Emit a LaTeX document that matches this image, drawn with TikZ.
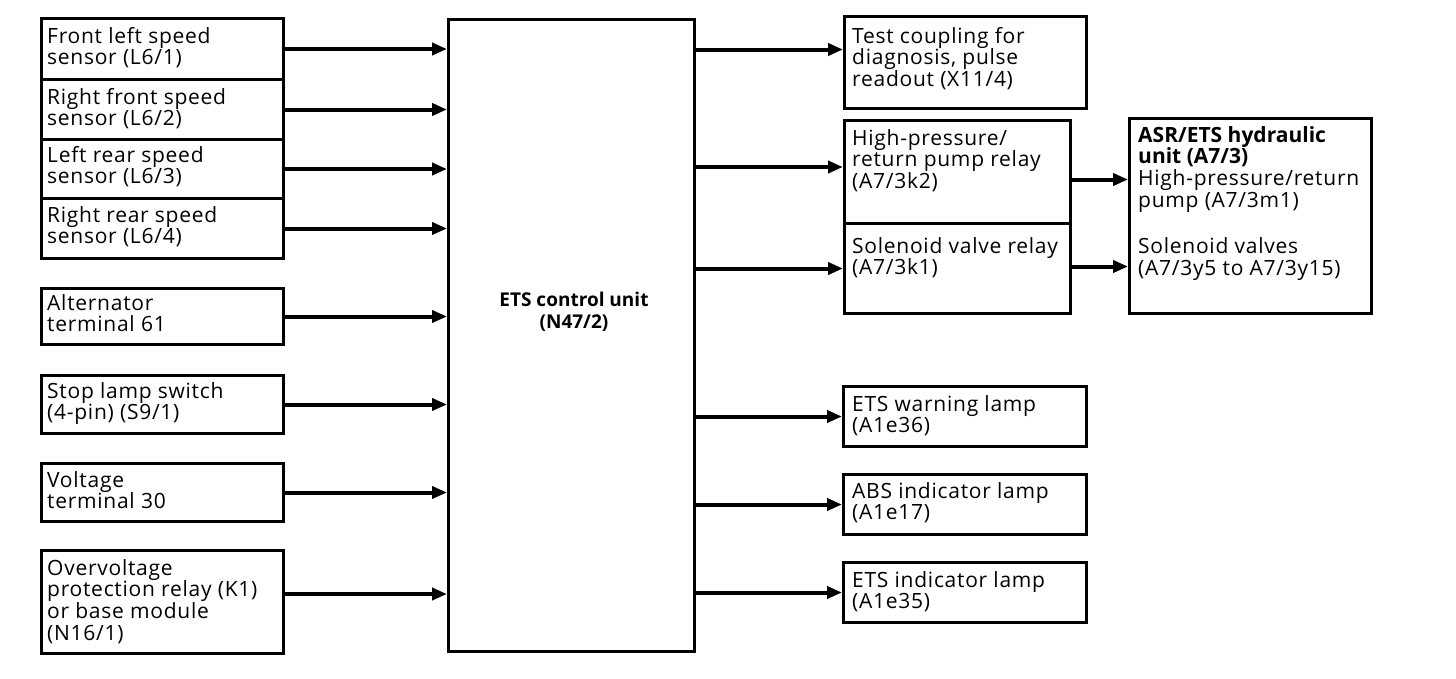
\documentclass[tikz,border=0pt]{standalone}
\usepackage{fontspec}
\setmainfont{Open Sans}[LetterSpace=3.5, BoldFeatures={LetterSpace=0}]
\usetikzlibrary{arrows.meta}
\begin{document}
\begin{tikzpicture}[x=1pt,y=-1pt,
  box/.style={draw, line width=3pt, inner sep=0pt, anchor=north west},
  lbl/.style={inner sep=0pt, anchor=north west, align=left, font=\fontsize{21}{21.7}\selectfont},
  arr/.style={line width=4pt, -{Triangle[length=15pt,width=12pt]}}]
\fill[white] (0,0) rectangle (1456,678);
\useasboundingbox (0,0) rectangle (1456,678);
% left boxes
\node[box, minimum width=242pt, minimum height=61pt] (s1) at (40,17) {};
\node[box, minimum width=242pt, minimum height=60pt] (s2) at (40,78) {};
\node[box, minimum width=242pt, minimum height=59pt] (s3) at (40,138) {};
\node[box, minimum width=242pt, minimum height=60pt] (s4) at (40,197) {};
\node[box, minimum width=242pt, minimum height=56pt] (s5) at (40,287) {};
\node[box, minimum width=242pt, minimum height=58pt] (s6) at (40,374) {};
\node[box, minimum width=242pt, minimum height=58pt] (s7) at (40,462) {};
\node[box, minimum width=242pt, minimum height=103pt] (s8) at (40,549) {};
\node[lbl] (ls1) at (47,27) {Front left speed\\sensor (L6/1)};
\node[lbl] (ls2) at (47,88) {Right front speed\\sensor (L6/2)};
\node[lbl] (ls3) at (47,146) {Left rear speed\\sensor (L6/3)};
\node[lbl] (ls4) at (47,206) {Right rear speed\\sensor (L6/4)};
\node[lbl] (ls5) at (47,294) {Alternator\\terminal 61};
\node[lbl] (ls6) at (47,382) {Stop lamp switch\\(4-pin) (S9/1)};
\node[lbl] (ls7) at (47,471) {Voltage\\terminal 30};
\node[lbl] (ls8) at (47,559) {Overvoltage\\protection relay (K1)\\or base module\\(N16/1)};
% control unit
\node[box, minimum width=246pt, minimum height=632pt] (ecu) at (447,18) {};
\node[inner sep=0pt, align=center, font=\fontsize{19}{22.5}\selectfont\bfseries] (lecu) at (574,312) {ETS control unit\\(N47/2)};
% right boxes
\node[box, minimum width=242pt, minimum height=92pt] (t1) at (843,15) {};
\node[box, minimum width=226pt, minimum height=103pt] (r1) at (843,119) {};
\node[box, minimum width=226pt, minimum height=90pt] (r2) at (843,222) {};
\node[box, minimum width=242pt, minimum height=195pt] (hy) at (1128,117) {};
\node[box, minimum width=243pt, minimum height=60pt] (w1) at (842,385) {};
\node[box, minimum width=243pt, minimum height=60pt] (a1) at (842,473) {};
\node[box, minimum width=243pt, minimum height=60pt] (e1) at (842,561) {};
\node[lbl] (lt1) at (852,27) {Test coupling for\\diagnosis, pulse\\readout (X11/4)};
\node[lbl] (lr1) at (852,129) {High-pressure/\\return pump relay\\(A7/3k2)};
\node[lbl] (lr2) at (852,237) {Solenoid valve relay\\(A7/3k1)};
\node[lbl] (lhy) at (1138,126) {\textbf{ASR/ETS hydraulic}\\\textbf{unit (A7/3)}\\High-pressure/return\\pump (A7/3m1)\\[25pt]Solenoid valves\\(A7/3y5 to A7/3y15)};
\node[lbl] (lw1) at (852,395) {ETS warning lamp\\(A1e36)};
\node[lbl] (la1) at (852,482) {ABS indicator lamp\\(A1e17)};
\node[lbl] (le1) at (852,571) {ETS indicator lamp\\(A1e35)};
% arrows into control unit
\foreach \n in {s1,s2,s3,s4,s5,s6,s7}
  \draw[arr] (\n.east) -- (\n.east -| ecu.west);
\draw[arr] ([yshift=8pt]s8.east) -- ([yshift=8pt]s8.east -| ecu.west);
% arrows out of control unit
\draw[arr] ([yshift=13pt]t1.west -| ecu.east) -- ([yshift=13pt]t1.west);
\draw[arr] ([yshift=5pt]r1.west -| ecu.east) -- ([yshift=5pt]r1.west);
\draw[arr] (r2.west -| ecu.east) -- (r2.west);
\draw[arr] (w1.west -| ecu.east) -- (w1.west);
\draw[arr] (a1.west -| ecu.east) -- (a1.west);
\draw[arr] (e1.west -| ecu.east) -- (e1.west);
% relays to hydraulic unit
\draw[arr] ([yshift=-7.5pt]r1.east) -- ([yshift=-7.5pt]r1.east -| hy.west);
\draw[arr] ([yshift=2pt]r2.east) -- ([yshift=2pt]r2.east -| hy.west);
\end{tikzpicture}
\end{document}
